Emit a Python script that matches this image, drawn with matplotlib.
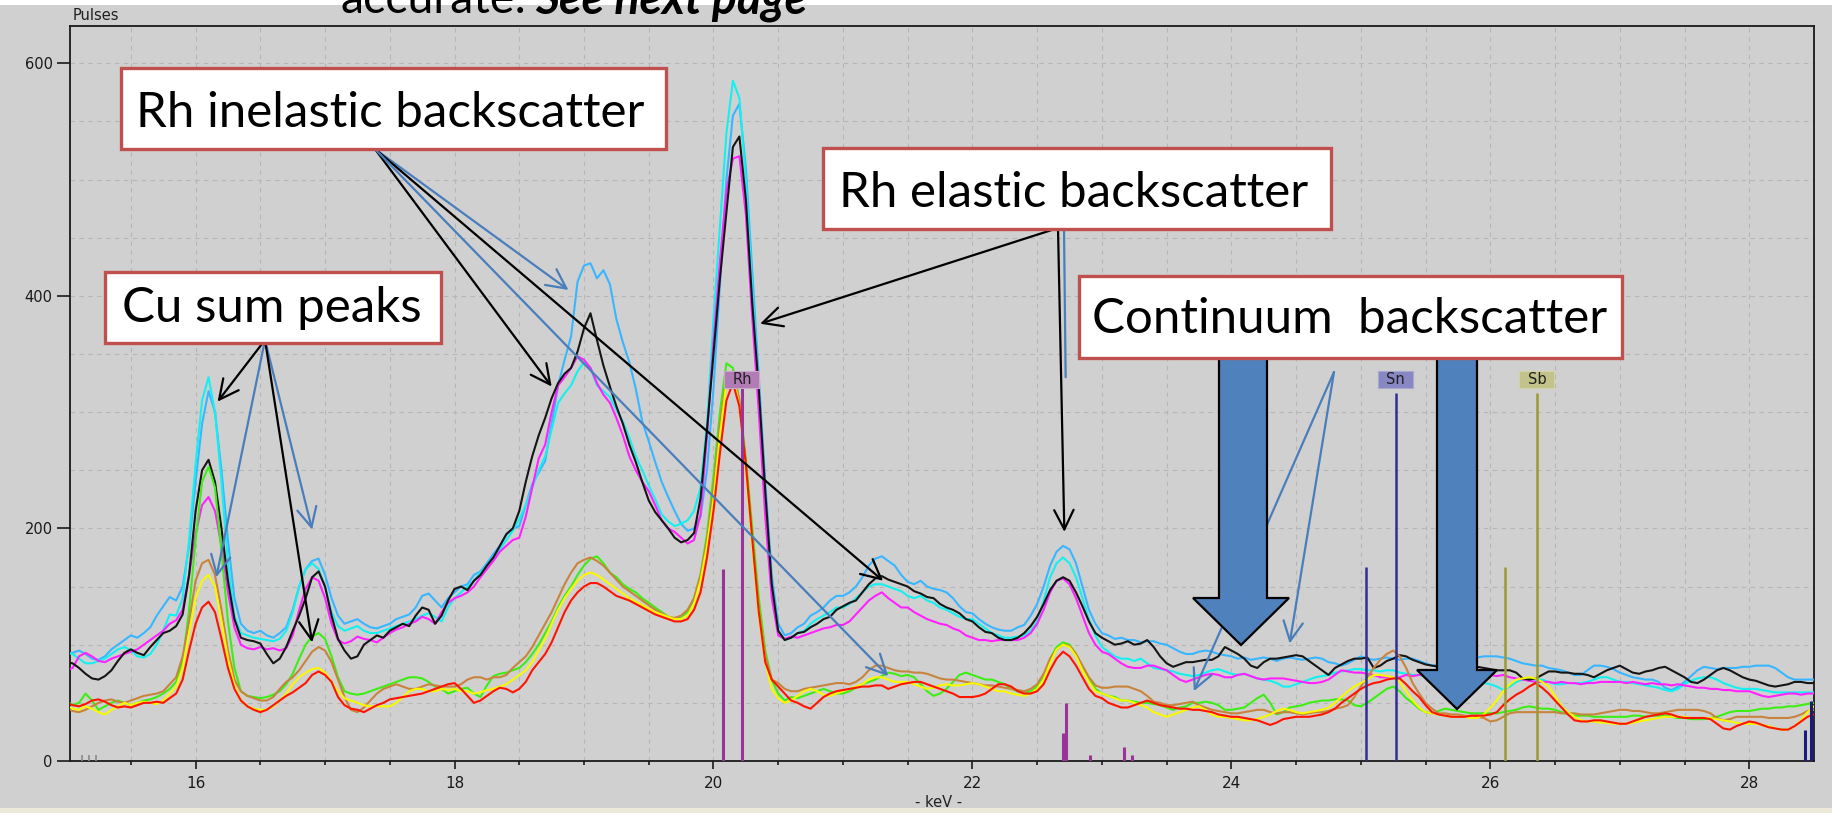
import numpy as np
import matplotlib
matplotlib.use('Agg')
import matplotlib.pyplot as plt
from matplotlib.patches import Rectangle, Polygon


# channel energies, 0.05 keV apart
kev = np.round(np.arange(15.0, 28.5001, 0.05), 2)

# pulses per channel, one list per measured spectrum (rows = 1 keV)
black = [
    85, 84, 80, 75, 71, 70, 73, 78, 86, 93, 96, 93, 91, 98, 104, 110, 112, 116, 126, 160,
    215, 250, 259, 240, 200, 155, 122, 106, 104, 103, 101, 92, 84, 88, 98, 112, 125, 140, 158, 163,
    150, 125, 105, 95, 88, 90, 100, 104, 108, 106, 112, 115, 118, 116, 125, 132, 130, 118, 125, 138,
    148, 150, 147, 155, 160, 168, 175, 185, 195, 200, 215, 240, 262, 280, 295, 312, 325, 333, 338, 352,
    372, 385, 362, 340, 322, 305, 290, 272, 257, 240, 224, 214, 207, 200, 192, 188, 190, 196, 226, 285,
    350, 415, 472, 528, 537, 483, 393, 320, 232, 152, 112, 104, 106, 110, 111, 115, 118, 122, 124, 130,
    133, 136, 138, 145, 152, 157, 159, 156, 154, 152, 150, 146, 144, 141, 140, 135, 132, 130, 127, 122,
    120, 115, 111, 110, 106, 104, 104, 106, 110, 116, 124, 135, 147, 155, 158, 155, 145, 133, 120, 110,
    106, 103, 100, 101, 103, 100, 101, 104, 98, 90, 84, 81, 83, 85, 85, 86, 87, 87, 90, 98,
    95, 92, 88, 82, 80, 85, 88, 88, 89, 90, 91, 90, 86, 82, 78, 74, 80, 83, 86, 88,
    88, 89, 80, 82, 86, 88, 91, 90, 87, 85, 83, 82, 81, 81, 80, 81, 80, 81, 81, 80,
    79, 78, 78, 78, 76, 71, 70, 71, 74, 77, 77, 76, 76, 75, 75, 74, 72, 75, 78, 80,
    82, 79, 76, 75, 77, 78, 80, 81, 78, 75, 72, 68, 67, 70, 74, 78, 80, 78, 75, 72,
    70, 69, 67, 65, 64, 65, 66, 68, 68, 67, 67]
sky = [
    92, 93, 95, 92, 88, 87, 90, 96, 100, 104, 108, 106, 110, 115, 125, 133, 141, 138, 150, 185,
    240, 290, 318, 300, 250, 190, 140, 118, 112, 110, 112, 108, 106, 110, 115, 130, 150, 165, 172, 174,
    160, 140, 125, 118, 120, 122, 118, 115, 114, 116, 118, 122, 124, 126, 132, 142, 144, 138, 132, 140,
    145, 150, 152, 160, 163, 170, 178, 185, 195, 200, 202, 220, 238, 248, 258, 290, 323, 345, 365, 412,
    426, 428, 415, 422, 410, 380, 360, 343, 320, 292, 275, 257, 240, 227, 215, 204, 198, 200, 210, 250,
    320, 410, 500, 555, 565, 510, 420, 330, 240, 160, 118, 108, 110, 115, 118, 125, 128, 132, 138, 142,
    142, 145, 150, 158, 168, 174, 176, 172, 168, 160, 154, 152, 155, 150, 148, 147, 145, 140, 133, 128,
    127, 122, 118, 115, 113, 112, 112, 115, 117, 125, 135, 150, 168, 180, 185, 182, 170, 150, 130, 118,
    110, 108, 105, 106, 104, 104, 102, 103, 103, 101, 100, 97, 94, 92, 92, 94, 95, 94, 92, 91,
    90, 88, 89, 87, 88, 89, 88, 86, 88, 89, 88, 87, 88, 89, 88, 85, 84, 82, 84, 87,
    90, 88, 87, 88, 89, 88, 87, 88, 88, 86, 84, 82, 83, 85, 86, 87, 88, 88, 89, 90,
    90, 90, 89, 88, 86, 84, 83, 82, 82, 80, 79, 78, 76, 74, 74, 78, 82, 82, 81, 79,
    76, 74, 72, 71, 70, 70, 68, 63, 61, 64, 68, 73, 78, 81, 80, 79, 80, 80, 80, 81,
    81, 82, 82, 82, 80, 76, 72, 70, 70, 70, 70]
aqua = [
    93, 92, 88, 84, 84, 86, 88, 92, 96, 98, 95, 90, 89, 92, 100, 112, 126, 125, 140, 190,
    255, 310, 330, 300, 240, 170, 125, 110, 108, 106, 105, 104, 103, 105, 112, 128, 150, 165, 170, 165,
    150, 128, 116, 112, 114, 116, 112, 110, 110, 112, 114, 116, 118, 120, 122, 125, 127, 124, 120, 132,
    140, 145, 150, 155, 162, 168, 175, 182, 190, 198, 208, 220, 235, 250, 262, 285, 308, 316, 323, 335,
    343, 338, 323, 318, 313, 302, 292, 278, 262, 250, 237, 225, 212, 206, 202, 204, 207, 215, 235, 290,
    380, 460, 540, 585, 570, 500, 405, 320, 230, 150, 112, 104, 106, 110, 112, 118, 122, 125, 128, 132,
    132, 135, 140, 145, 150, 152, 152, 150, 148, 146, 142, 140, 142, 138, 136, 132, 130, 127, 124, 122,
    122, 118, 114, 110, 108, 106, 106, 107, 108, 112, 120, 138, 158, 170, 175, 170, 158, 140, 122, 108,
    98, 94, 90, 88, 88, 86, 88, 84, 80, 79, 78, 77, 75, 74, 73, 74, 76, 78, 79, 77,
    75, 74, 75, 73, 71, 70, 69, 67, 64, 64, 66, 68, 70, 72, 73, 74, 76, 77, 78, 79,
    79, 78, 78, 77, 78, 78, 76, 75, 74, 74, 73, 72, 72, 71, 72, 70, 69, 68, 68, 67,
    66, 64, 61, 64, 68, 70, 71, 70, 70, 68, 66, 66, 67, 67, 67, 68, 70, 72, 72, 70,
    68, 68, 67, 66, 65, 64, 63, 61, 60, 62, 66, 69, 71, 72, 72, 70, 67, 65, 63, 62,
    62, 62, 61, 60, 59, 59, 59, 59, 59, 59, 59]
magenta = [
    78, 80, 90, 93, 90, 86, 85, 88, 90, 92, 94, 96, 100, 104, 108, 112, 118, 121, 130, 160,
    195, 220, 227, 215, 185, 145, 115, 100, 97, 96, 98, 96, 97, 95, 97, 108, 130, 148, 158, 155,
    140, 118, 104, 101, 103, 107, 105, 104, 102, 106, 110, 113, 115, 118, 120, 124, 122, 118, 128, 136,
    140, 142, 145, 150, 158, 165, 172, 180, 185, 190, 192, 210, 235, 260, 272, 300, 323, 330, 338, 348,
    345, 338, 325, 315, 308, 295, 280, 262, 250, 240, 232, 220, 207, 200, 197, 192, 187, 190, 212, 280,
    360, 430, 490, 518, 520, 470, 380, 300, 210, 140, 108, 105, 107, 106, 108, 110, 112, 114, 115, 117,
    117, 120, 126, 132, 138, 142, 145, 140, 136, 132, 132, 128, 125, 122, 120, 118, 117, 114, 112, 108,
    106, 104, 104, 103, 104, 104, 104, 104, 106, 110, 118, 130, 145, 155, 157, 152, 140, 125, 110, 100,
    94, 92, 88, 84, 81, 80, 80, 82, 82, 80, 78, 74, 70, 68, 70, 72, 74, 75, 74, 72,
    72, 74, 75, 73, 71, 70, 71, 71, 71, 70, 69, 68, 67, 67, 68, 70, 74, 78, 77, 76,
    76, 75, 74, 72, 72, 71, 72, 74, 73, 74, 75, 74, 73, 74, 75, 74, 73, 74, 75, 74,
    74, 73, 74, 72, 71, 70, 69, 68, 68, 68, 67, 68, 67, 67, 66, 67, 67, 68, 68, 68,
    68, 67, 68, 67, 66, 67, 66, 66, 65, 66, 65, 64, 63, 63, 62, 62, 61, 61, 60, 60,
    60, 58, 56, 55, 56, 57, 58, 58, 57, 58, 58]
green = [
    52, 48, 50, 58, 52, 44, 47, 50, 52, 50, 48, 50, 52, 53, 55, 58, 62, 68, 85, 130,
    190, 240, 253, 235, 180, 120, 80, 60, 56, 55, 54, 55, 57, 60, 66, 75, 88, 100, 107, 110,
    105, 90, 72, 60, 58, 57, 58, 60, 62, 64, 66, 68, 70, 72, 72, 71, 68, 64, 62, 58,
    60, 62, 63, 58, 55, 65, 73, 75, 76, 78, 80, 85, 92, 100, 110, 120, 132, 142, 150, 160,
    168, 174, 176, 170, 162, 158, 152, 148, 145, 140, 136, 132, 128, 124, 122, 124, 128, 140, 160, 195,
    245, 300, 342, 338, 310, 260, 200, 140, 95, 70, 58, 52, 55, 54, 56, 58, 60, 62, 60, 58,
    58, 60, 63, 66, 68, 70, 73, 76, 75, 73, 74, 72, 66, 60, 56, 58, 62, 68, 74, 76,
    74, 72, 70, 70, 68, 66, 62, 60, 59, 60, 64, 72, 88, 98, 102, 100, 92, 80, 70, 62,
    58, 56, 55, 52, 52, 51, 50, 50, 49, 48, 46, 44, 46, 47, 50, 50, 51, 50, 48, 44,
    44, 45, 46, 50, 54, 57, 50, 40, 42, 46, 47, 48, 50, 51, 52, 52, 53, 53, 52, 48,
    47, 50, 54, 58, 62, 64, 60, 54, 50, 45, 42, 41, 43, 45, 44, 43, 42, 41, 41, 41,
    41, 41, 42, 43, 44, 46, 47, 46, 45, 45, 44, 42, 40, 39, 39, 39, 38, 38, 38, 38,
    38, 38, 39, 39, 38, 39, 39, 39, 38, 37, 37, 36, 36, 36, 37, 38, 40, 42, 43, 43,
    43, 44, 45, 45, 46, 46, 47, 47, 48, 49, 50]
brown = [
    46, 43, 42, 44, 47, 50, 52, 53, 51, 50, 52, 54, 56, 57, 58, 60, 66, 72, 90, 120,
    155, 170, 173, 160, 130, 95, 70, 60, 56, 54, 52, 52, 55, 62, 68, 72, 78, 86, 94, 98,
    95, 85, 70, 55, 44, 42, 46, 52, 58, 62, 64, 66, 64, 62, 62, 64, 66, 65, 64, 64,
    64, 66, 70, 72, 72, 70, 72, 72, 74, 80, 85, 90, 98, 108, 118, 128, 140, 152, 162, 170,
    173, 175, 172, 168, 162, 156, 150, 146, 142, 138, 134, 130, 127, 124, 123, 125, 130, 140, 160, 190,
    235, 290, 330, 335, 310, 255, 190, 130, 90, 70, 67, 62, 60, 60, 62, 63, 64, 65, 66, 67,
    67, 66, 68, 72, 78, 82, 82, 80, 78, 77, 77, 76, 76, 75, 73, 71, 70, 70, 69, 68,
    67, 66, 65, 65, 64, 63, 62, 61, 60, 62, 66, 75, 88, 96, 100, 99, 92, 82, 72, 65,
    63, 63, 64, 64, 64, 62, 60, 56, 51, 50, 48, 48, 49, 50, 51, 48, 46, 44, 43, 42,
    41, 41, 42, 43, 44, 44, 42, 41, 42, 42, 41, 40, 41, 42, 42, 43, 45, 46, 48, 55,
    64, 72, 80, 87, 92, 95, 90, 80, 67, 58, 50, 45, 41, 41, 40, 40, 39, 38, 38, 37,
    34, 35, 38, 41, 42, 42, 42, 42, 42, 42, 42, 41, 41, 41, 40, 40, 40, 41, 42, 43,
    44, 44, 43, 43, 42, 41, 41, 42, 43, 44, 44, 44, 44, 43, 41, 37, 35, 36, 38, 38,
    38, 38, 38, 37, 37, 37, 37, 38, 40, 43, 44]
yellow = [
    48, 45, 44, 47, 45, 42, 40, 44, 47, 50, 48, 50, 51, 50, 49, 52, 58, 64, 80, 110,
    140, 155, 160, 150, 120, 88, 65, 52, 47, 45, 44, 44, 47, 52, 58, 66, 72, 76, 79, 80,
    76, 68, 60, 54, 52, 50, 48, 47, 47, 47, 47, 50, 55, 60, 62, 62, 60, 60, 62, 61,
    62, 60, 60, 58, 59, 61, 62, 64, 66, 70, 74, 78, 85, 95, 105, 118, 130, 140, 148, 155,
    160, 162, 160, 156, 152, 148, 144, 140, 137, 134, 131, 128, 126, 124, 122, 122, 125, 135, 155, 185,
    225, 280, 325, 332, 305, 250, 185, 125, 85, 62, 54, 50, 52, 56, 60, 62, 60, 57, 56, 58,
    60, 62, 64, 66, 70, 72, 72, 70, 68, 68, 68, 66, 64, 62, 63, 65, 66, 65, 65, 66,
    67, 66, 64, 62, 60, 60, 58, 57, 56, 58, 62, 70, 84, 96, 100, 98, 90, 78, 68, 60,
    58, 56, 54, 52, 52, 50, 48, 46, 42, 40, 38, 40, 42, 44, 46, 47, 44, 40, 38, 38,
    37, 36, 35, 35, 36, 38, 40, 43, 45, 44, 42, 41, 42, 43, 44, 46, 50, 55, 60, 64,
    67, 70, 74, 74, 73, 72, 68, 60, 52, 46, 42, 41, 40, 39, 38, 38, 38, 37, 37, 40,
    46, 52, 60, 66, 70, 71, 72, 71, 68, 64, 56, 47, 42, 38, 35, 34, 34, 33, 33, 32,
    32, 32, 33, 34, 35, 36, 37, 38, 38, 38, 38, 37, 37, 37, 37, 36, 35, 34, 33, 32,
    32, 32, 31, 30, 28, 27, 27, 30, 35, 42, 47]
red = [
    50, 48, 47, 49, 52, 53, 51, 48, 46, 47, 46, 48, 50, 50, 51, 50, 54, 58, 70, 95,
    118, 132, 137, 128, 105, 80, 62, 52, 47, 44, 42, 44, 48, 52, 56, 59, 63, 67, 74, 77,
    74, 68, 55, 48, 45, 44, 42, 45, 48, 50, 53, 54, 55, 56, 57, 58, 60, 62, 64, 66,
    67, 62, 56, 50, 52, 56, 60, 63, 62, 59, 62, 68, 78, 85, 92, 102, 115, 128, 138, 145,
    150, 153, 153, 150, 146, 142, 140, 138, 135, 132, 129, 126, 124, 122, 120, 120, 122, 130, 145, 175,
    215, 265, 310, 325, 305, 255, 190, 128, 85, 70, 64, 58, 52, 50, 47, 45, 50, 55, 58, 60,
    61, 62, 63, 64, 64, 65, 65, 62, 64, 66, 67, 68, 68, 66, 64, 62, 60, 58, 55, 55,
    55, 56, 58, 62, 66, 66, 64, 60, 58, 58, 60, 66, 78, 88, 94, 90, 82, 72, 62, 56,
    54, 50, 48, 46, 46, 48, 50, 52, 50, 48, 47, 46, 45, 45, 44, 44, 43, 42, 40, 39,
    38, 38, 37, 36, 35, 33, 31, 33, 36, 37, 38, 38, 38, 39, 40, 42, 45, 50, 54, 58,
    62, 65, 67, 68, 70, 71, 71, 66, 60, 55, 48, 42, 40, 39, 38, 38, 38, 39, 39, 39,
    40, 42, 48, 53, 57, 60, 64, 67, 63, 58, 52, 46, 40, 35, 34, 34, 35, 35, 34, 33,
    32, 32, 34, 36, 38, 39, 40, 41, 40, 38, 37, 37, 37, 37, 36, 32, 28, 27, 30, 32,
    34, 33, 31, 29, 28, 27, 27, 30, 34, 38, 40]

# element line markers (keV, relative height in pulses)
rh_lines = [20.07, 20.22, 22.70, 22.72, 22.91, 23.17, 23.23]
rh_heights = [165, 322, 24, 50, 5, 12, 5]
sn_lines = [25.04, 25.27]
sn_heights = [167, 316]
sb_lines = [26.11, 26.36]
sb_heights = [167, 316]
edge_lines = [28.43, 28.48]
edge_heights = [27, 52]
low_lines = [15.12, 15.18, 15.23]
low_heights = [5, 5, 5]

W, H = 1833, 813


def fx(x):
    return x / W


def fy(y):
    return 1 - y / H


bg = '#d0d0d0'
fig = plt.figure(figsize=(W / 100, H / 100), dpi=100, facecolor=bg)
ax = fig.add_axes([fx(70), fy(761), (1814 - 70) / W, (761 - 26) / H])
ax.set_facecolor(bg)

series = [(sky, '#38b6ff'), (aqua, '#14f0f0'), (magenta, '#ff22ff'), (black, '#151515'),
          (green, '#3cee14'), (brown, '#c8843c'), (yellow, '#f8f800'), (red, '#ff1400')]
for vals, col in series:
    ax.plot(kev, vals, color=col, lw=1.5, zorder=3)

ax.vlines(rh_lines, 0, rh_heights, colors='#993399', lw=2.2, zorder=4)
ax.vlines(sn_lines, 0, sn_heights, colors='#2e2e96', lw=1.8, zorder=4)
ax.vlines(sb_lines, 0, sb_heights, colors='#9c9a30', lw=1.8, zorder=4)
ax.vlines(edge_lines, 0, edge_heights, colors='#1a1a80', lw=2.2, zorder=4)
ax.vlines(low_lines, 0, low_heights, colors='#8a8a8a', lw=1.2, zorder=4)

# element tags sit just above the strongest line of each element
for name, pos, fc, ec in [('Rh', rh_lines[1], '#b07cb3', '#c9a9c9'),
                          ('Sn', sn_lines[1], '#8787c4', '#a9a9d4'),
                          ('Sb', sb_lines[1], '#c2c28a', '#d2d2a6')]:
    ax.add_patch(Rectangle((pos - 0.135, 321), 0.27, 14, fc=fc, ec=ec, lw=0.8, zorder=5))
    ax.text(pos, 328, name, ha='center', va='center', fontsize=10.5, color='#202020',
            zorder=6)

ax.set_xlim(15.03, 28.5)
ax.set_ylim(0, 632)
ax.set_xticks(np.arange(16, 28.1, 2))
ax.set_xticks(np.arange(15.5, 28.5, 0.5), minor=True)
ax.set_yticks([0, 200, 400, 600])
ax.set_yticks(np.arange(50, 632, 50), minor=True)
ax.tick_params(axis='x', which='major', length=6, width=1.2, labelsize=11, pad=5, colors='#1a1a1a')
ax.tick_params(axis='x', which='minor', length=3, width=1.2, colors='#1a1a1a')
ax.tick_params(axis='y', which='major', length=9.5, width=1.2, labelsize=10.5, pad=3, colors='#1a1a1a')
ax.tick_params(axis='y', which='minor', length=0)
ax.grid(which='both', color='#b6b6b6', ls=(0, (4, 4)), lw=0.8)
ax.set_axisbelow(True)
for sp in ax.spines.values():
    sp.set_color('#1a1a1a')
    sp.set_linewidth(1.3)

fig.text(fx(73), fy(15), 'Pulses', fontsize=10.5, ha='left', va='center', color='#202020')
fig.text(fx(939), fy(802), '- keV -', fontsize=10.5, ha='center', va='center', color='#202020')

# strips above and below the plot window
fig.patches.append(Rectangle((0, fy(5)), 1, 5 / H, transform=fig.transFigure,
                             fc='white', ec='none', zorder=1))
fig.patches.append(Rectangle((0, 0), 1, 5 / H, transform=fig.transFigure,
                             fc='#ece9d8', ec='none', zorder=1))

fig.text(fx(340), fy(13), 'accurate:', fontsize=33.5, family='Lato', ha='left',
         va='baseline', zorder=10)
fig.text(fx(535), fy(13), 'See next page', fontsize=33.5, family='Lato', weight='bold',
         style='italic', ha='left', va='baseline', zorder=10)

box_red = '#c0504d'
arrow_blue = '#4a7ebb'


def callout(x0, y0, x1, y1, label, tx, ty):
    fig.patches.append(Rectangle((fx(x0), fy(y1)), fx(x1) - fx(x0), fy(y0) - fy(y1),
                                 transform=fig.transFigure, fc='white', ec=box_red,
                                 lw=2.4, zorder=8))
    fig.text(fx(tx), fy(ty), label, fontsize=35.5, family='Lato', ha='center',
             va='baseline', zorder=9)


def pointer(src, tip, color, head=True):
    style = '->,head_length=0.7,head_width=0.35' if head else '-'
    ax.annotate('', xy=tip, xycoords='data', xytext=(fx(src[0]), fy(src[1])),
                textcoords='figure fraction', annotation_clip=False, zorder=6,
                arrowprops=dict(arrowstyle=style, color=color, lw=1.6,
                                shrinkA=0, shrinkB=0, mutation_scale=20))


def block_arrow(xl, xr, top, neck, hl, hr, tip):
    pts = [(xl, top), (xl, neck), (hl, neck), tip, (hr, neck), (xr, neck), (xr, top)]
    fig.patches.append(Polygon([(fx(a), fy(b)) for a, b in pts], closed=True,
                               transform=fig.transFigure, fc='#4f81bd', ec='black',
                               lw=1.6, zorder=7))


# Rh inelastic (Compton) peaks
pointer((375, 149), (18.75, 322), 'black')
pointer((375, 149), (18.88, 405), arrow_blue)
pointer((375, 149), (21.31, 155), 'black')
pointer((375, 149), (21.35, 73), arrow_blue)
callout(121, 68, 666, 149, 'Rh inelastic backscatter', 390, 127)

# Cu sum peaks
pointer((265, 340), (16.17, 309), 'black')
pointer((265, 340), (16.16, 158), arrow_blue)
pointer((265, 340), (16.90, 199), arrow_blue)
pointer((265, 340), (16.90, 102), 'black')
callout(105, 272, 441, 343, 'Cu sum peaks', 272, 322)

# Rh elastic peaks
pointer((1058, 228), (20.36, 376), 'black')
pointer((1058, 228), (22.71, 197), 'black')
pointer((1064, 228), (22.72, 330), arrow_blue, head=False)
callout(823, 148, 1331, 229, 'Rh elastic backscatter', 1074, 207)

# continuum
pointer((1334, 372), (23.71, 60), arrow_blue)
pointer((1334, 372), (24.45, 101), arrow_blue)
block_arrow(1219, 1267, 357, 598, 1193, 1289, (1241, 645))
block_arrow(1437, 1477, 357, 670, 1417, 1497, (1457, 709))
callout(1079, 276, 1622, 358, 'Continuum  backscatter', 1350, 333)

fig.savefig('out.png', dpi=100, facecolor=bg)
